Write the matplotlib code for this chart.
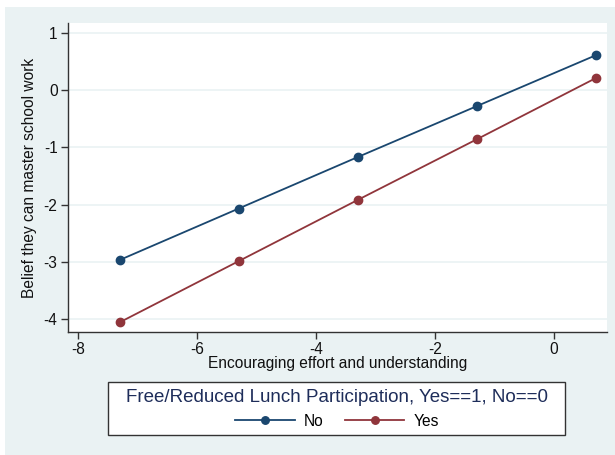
# Stata-style margins plot: belief vs encouraging effort, by lunch participation
import matplotlib.pyplot as plt
from matplotlib.patches import Rectangle

plt.rcParams['font.family'] = ['Liberation Sans', 'DejaVu Sans']

effort = [-7.3, -5.3, -3.3, -1.3, 0.7]
belief_no = [-2.97, -2.07, -1.17, -0.28, 0.61]
belief_yes = [-4.06, -2.99, -1.92, -0.86, 0.21]
x_ticks = [-8, -6, -4, -2, 0]
y_ticks = [1, 0, -1, -2, -3, -4]

navy = '#1a476f'
maroon = '#90353b'
bg = '#eaf2f3'
fs = 11.2

fig = plt.figure(figsize=(6.15, 4.55), dpi=100)
fig.patches.append(Rectangle((5 / 615, 0), 610 / 615, 1 - 7 / 455,
                             transform=fig.transFigure, facecolor=bg,
                             edgecolor='none', zorder=0))

ax = fig.add_axes([68 / 615, 1 - 332 / 455, 539 / 615, 309 / 455])
ax.set_facecolor('white')
ax.set_zorder(1)

ax.plot(effort, belief_no, color=navy, marker='o', markersize=6, lw=1.3, label='No')
ax.plot(effort, belief_yes, color=maroon, marker='o', markersize=6, lw=1.3, label='Yes')

ax.set_xlim(-8.17, 0.89)
ax.set_ylim(-4.23, 1.175)
ax.set_xticks(x_ticks)
ax.set_yticks(y_ticks)
ax.set_xticklabels([str(t) for t in x_ticks])
ax.set_yticklabels([str(t) for t in y_ticks])
ax.grid(axis='y', color=bg, lw=1.2)
ax.set_axisbelow(True)

for s in ['top', 'right']:
    ax.spines[s].set_visible(False)
for s in ['left', 'bottom']:
    ax.spines[s].set_color('#333333')
    ax.spines[s].set_linewidth(1.0)
ax.tick_params(direction='out', length=5, width=1, color='#333333',
               labelsize=fs, labelcolor='#111111', pad=2.5)

ax.set_xlabel('Encouraging effort and understanding', fontsize=fs,
              color='#111111', labelpad=-1)
ax.set_ylabel('Belief they can master school work', fontsize=fs,
              color='#111111', labelpad=5)

# legend box
fig.patches.append(Rectangle((108 / 615, 1 - 435 / 455), 457 / 615, 53 / 455,
                             transform=fig.transFigure, facecolor='white',
                             edgecolor='#333333', lw=1.0, zorder=2))
fig.text(337 / 615, 1 - 398 / 455, 'Free/Reduced Lunch Participation, Yes==1, No==0',
         ha='center', va='center', fontsize=13.5, color='#1e2d5a', zorder=3)
handles, labels = ax.get_legend_handles_labels()
leg = fig.legend(handles, labels, loc='center', ncol=2, frameon=False,
                 bbox_to_anchor=(337 / 615, 1 - 421 / 455), fontsize=fs,
                 handlelength=3.8, columnspacing=1.4, handletextpad=0.58,
                 markerscale=0.9)
leg.set_zorder(3)

fig.savefig('out.png', dpi=100)
